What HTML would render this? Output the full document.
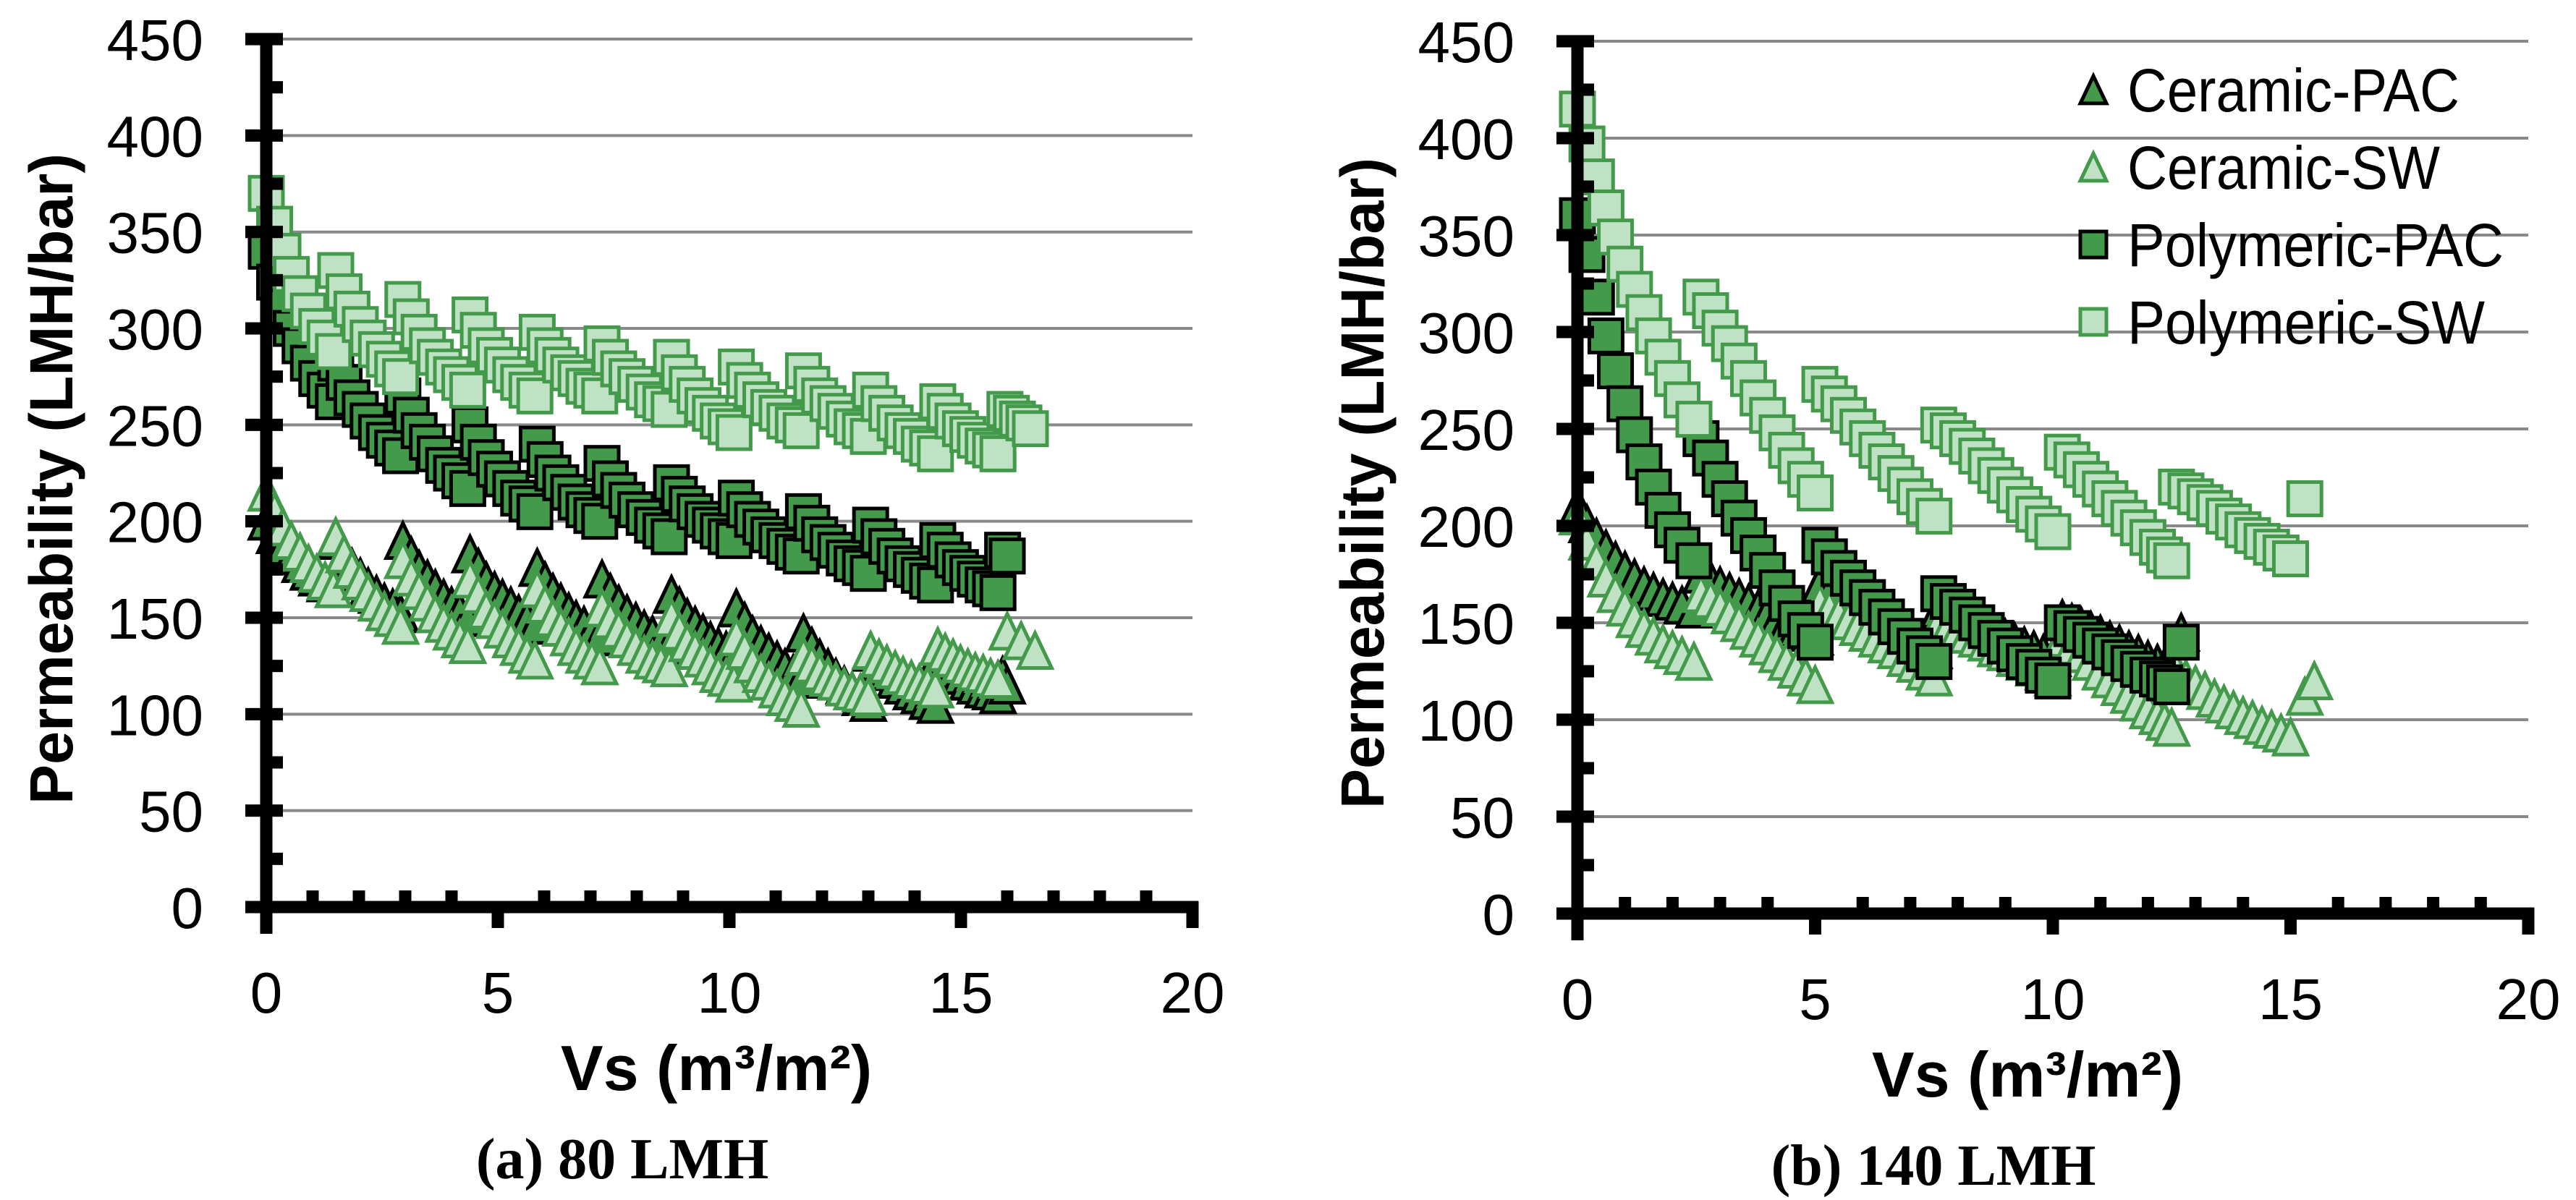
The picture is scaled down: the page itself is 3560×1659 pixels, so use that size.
<!DOCTYPE html>
<html><head><meta charset="utf-8"><style>
html,body{margin:0;padding:0;background:#fff;}
svg{display:block;font-family:"Liberation Sans",sans-serif;}
</style></head><body>
<svg id="fig" width="3560" height="1659" viewBox="0 0 3560 1659" xmlns="http://www.w3.org/2000/svg">
<g id="chartA"></g>
<g id="chartB"></g>
<g id="legend"></g>
</svg>
<script>
const xTicks = [0,5,10,15,20];
const yTicks = [0,50,100,150,200,250,300,350,400,450];
const seriesNames = ["Ceramic-PAC","Ceramic-SW","Polymeric-PAC","Polymeric-SW"];

// ---- chart (a) 80 LMH: shared x values of 11 filtration cycles ----
const xsA = [0,.18,.36,.54,.73,.91,1.09,1.27,1.45,
 1.5,1.68,1.85,2.03,2.2,2.38,2.55,2.73,2.9,
 2.95,3.13,3.3,3.48,3.65,3.83,4,4.18,4.35,
 4.4,4.58,4.75,4.93,5.1,5.28,5.45,5.63,5.8,
 5.85,6.02,6.19,6.36,6.53,6.69,6.86,7.03,7.2,
 7.25,7.43,7.61,7.79,7.98,8.16,8.34,8.52,8.7,
 8.75,8.92,9.09,9.26,9.43,9.59,9.76,9.93,10.1,
 10.15,10.33,10.5,10.68,10.85,11.03,11.2,11.38,11.55,
 11.6,11.78,11.95,12.13,12.3,12.48,12.65,12.83,13,
 13.05,13.23,13.4,13.58,13.75,13.93,14.1,14.28,14.45,
 14.5,14.66,14.83,14.99,15.15,15.31,15.48,15.64,15.8];
const aCPACx = xsA.concat([15.9,16]);
const aCPACy = [200,193,187,182,178,174,171,168,165, 190,182,176,171,166,162,158,155,152, 190,182,175,170,165,160,156,153,150, 183,176,169,164,160,156,152,149,146, 176,169,163,158,153,149,146,143,140, 170,163,157,152,148,144,141,138,135, 162,156,150,146,142,138,135,133,130, 155,148,141,136,132,128,124,121,118, 142,135,129,124,119,115,112,109,106, 132,127,122,118,115,112,110,107,105, 130,126,123,120,117,115,113,112,110, 120,115];
const aCSWx = xsA.concat([16,16.3,16.6]);
const aCSWy = [215,205,197,190,184,178,173,169,165, 192,183,175,169,163,158,153,150,146, 180,171,164,158,152,147,143,139,136, 170,162,154,149,144,139,135,131,128, 165,157,150,145,140,135,131,128,125, 155,149,144,139,135,131,128,126,124, 150,143,137,133,129,125,121,119,116, 140,133,126,121,117,113,109,106,103, 130,126,122,119,117,114,112,111,109, 133,129,126,123,120,118,116,115,113, 135,132,129,126,124,122,121,119,118, 143,138,133];
const aPPACx = xsA.concat([15.9,16]);
const aPPACy = [340,324,311,300,291,282,274,268,262, 282,272,264,258,252,246,242,238,234, 265,255,247,241,235,229,225,221,217, 250,241,233,227,222,217,212,209,205, 240,232,225,220,215,210,206,203,200, 230,222,216,211,206,202,198,195,192, 220,214,209,205,201,198,195,192,190, 212,206,201,197,193,190,187,184,182, 205,199,193,189,185,181,178,176,173, 198,192,187,182,178,175,172,169,167, 190,185,180,176,173,170,167,165,163, 185,182];
const aPSWx = xsA.concat([15.95,16.09,16.22,16.36,16.5]);
const aPSWy = [370,354,340,328,318,309,301,295,288, 330,319,310,302,295,289,284,279,275, 315,306,298,291,285,280,276,272,268, 307,299,291,286,281,276,272,268,265, 298,291,286,281,277,274,270,268,265, 292,285,279,275,271,267,263,261,258, 285,277,271,265,260,256,252,249,246, 280,273,268,263,259,256,252,250,247, 278,271,265,261,257,253,249,247,244, 268,261,256,251,247,244,240,238,235, 262,257,252,248,245,242,239,237,235, 258,256,253,251,248];

// ---- chart (b) 140 LMH ----
const xsB = [0,.2,.4,.6,.8,1,1.2,1.4,1.6,1.8,2,2.2,2.45,
 2.6,2.8,3,3.2,3.4,3.6,3.8,4,4.2,4.4,4.6,4.8,5,
 5.1,5.3,5.5,5.7,5.9,6.1,6.3,6.5,6.7,6.9,7.1,7.3,7.5,
 7.6,7.8,8,8.2,8.4,8.6,8.8,9,9.2,9.4,9.6,9.8,10,
 10.2,10.4,10.6,10.8,11,11.2,11.4,11.6,11.8,12,12.2,12.35,12.5];
const xsB6 = [12.6,12.8,13,13.2,13.4,13.6,13.8,14,14.2,14.4,14.6,14.8,15];
const bCPACx = xsB.concat([12.7]);
const bCPACy = [210,201,194,188,182,177,173,169,166,163,161,159,157, 175,172,169,166,163,160,157,155,152,150,147,145,143, 170,166,162,159,156,153,150,147,145,142,140,138,136, 157,155,152,150,148,146,144,142,140,138,136,134,132, 152,150,148,146,144,141,139,136,134,131,129,127,125, 145];
const bCSWx = xsB.concat(xsB6, [15.3,15.5]);
const bCSWy = [205,192,182,173,165,158,152,147,143,139,136,133,130, 165,162,158,154,150,146,142,138,134,130,126,122,118, 160,157,154,151,148,145,142,139,136,132,129,125,122, 150,148,146,144,142,140,137,135,132,130,127,125,122, 142,138,134,130,125,121,117,113,109,105,102,99,96, 125,121,118,115,111,108,105,102,100,97,95,93,91, 112,120];
const bPPACx = xsB.concat([12.7]);
const bPPACy = [360,340,318,298,280,263,247,233,220,208,198,190,182, 245,235,224,214,204,195,186,177,168,160,152,146,140, 190,184,178,173,168,163,158,153,148,143,138,134,130, 165,161,158,154,150,146,142,138,134,130,127,123,120, 150,147,144,141,138,135,132,129,126,123,121,119,117, 140];
const bPSWx = xsB.concat(xsB6, [15.3]);
const bPSWy = [415,397,380,364,349,335,322,310,298,287,276,265,255, 318,311,302,294,285,276,266,257,248,239,231,224,217, 273,268,263,257,251,245,239,233,227,221,215,210,205, 252,249,245,241,236,231,226,221,216,211,206,201,197, 238,234,229,224,219,214,209,204,199,194,189,185,182, 220,218,215,212,209,205,202,198,195,192,189,186,183, 214];

const NS = "http://www.w3.org/2000/svg";
const DARK = "#449a4b", LIGHT = "#c0e2c4";
const styles = {
  "Ceramic-PAC":{shape:"tri", fill:DARK, stroke:"#000"},
  "Ceramic-SW":{shape:"tri", fill:LIGHT, stroke:DARK},
  "Polymeric-PAC":{shape:"sq", fill:DARK, stroke:"#000"},
  "Polymeric-SW":{shape:"sq", fill:LIGHT, stroke:DARK}
};
function mk(tag, attrs, parent){
  const e = document.createElementNS(NS, tag);
  for (const k in attrs) e.setAttribute(k, attrs[k]);
  parent.appendChild(e);
  return e;
}
function marker(parent, name, cx, cy, s){
  const st = styles[name];
  let e;
  if (st.shape === "sq") {
    e = mk("rect", {x:cx-s/2, y:cy-s/2, width:s, height:s, fill:st.fill, stroke:st.stroke, "stroke-width":5}, parent);
  } else {
    const h = s*1.05;
    e = mk("polygon", {points:`${cx},${cy-h/2} ${cx+s/2},${cy+h/2} ${cx-s/2},${cy+h/2}`, fill:st.fill, stroke:st.stroke, "stroke-width":5}, parent);
  }
  
  
  return e;
}

function drawChart(g, ax, sub, series){
  const X = v => ax.x0 + v*ax.px;
  const Y = v => ax.y0 - v*ax.py;
  yTicks.forEach(t=>{
    if (t===0) return;
    const l = mk("line",{x1:X(0),x2:X(20),y1:Y(t),y2:Y(t),stroke:"#898989","stroke-width":4},g);
    
    
  });
  yTicks.forEach(t=>{
    const tx = mk("text",{x:X(0)-87,y:Y(t)+29,"font-size":80,"text-anchor":"end",fill:"#000"},g);
    tx.textContent = t;
    
    
  });
  xTicks.forEach(t=>{
    const tx = mk("text",{x:X(t),y:Y(0)+146,"font-size":80,"text-anchor":"middle",fill:"#000"},g);
    tx.textContent = t;
    
    
  });
  series.forEach(s=>{
    const sg = mk("g",{},g);
    
    
    s.x.forEach((xv,i)=>marker(sg, s.name, X(xv), Y(s.y[i]), 46));
  });
  const axg = mk("g",{fill:"#000"},g);
  
  
  mk("rect",{x:X(0)-8.5,y:Y(450)-8,width:17,height:Y(0)-Y(450)+45},axg);
  mk("rect",{x:X(0)-29,y:Y(0)-8.5,width:X(20)-X(0)+37,height:17},axg);
  for (let v=0; v<=450; v+=25){
    if (v%50===0) mk("rect",{x:X(0)-29,y:Y(v)-8.5,width:52,height:17},axg);
    else mk("rect",{x:X(0),y:Y(v)-8.5,width:23,height:17},axg);
  }
  for (let v=1; v<=20; v++){
    if (v%5===0) mk("rect",{x:X(v)-8.5,y:Y(0)-8,width:17,height:37},axg);
    else mk("rect",{x:X(v)-8.5,y:Y(0)-23,width:17,height:23},axg);
  }
  const yt = mk("text",{x:0,y:0,"font-size":84,"font-weight":"bold","text-anchor":"middle",textLength:900,lengthAdjust:"spacingAndGlyphs",transform:`translate(${X(0)-268},${(Y(0)+Y(450))/2+8}) rotate(-90)`},g);
  yt.textContent = "Permeability (LMH/bar)";
  
  
  const xt = mk("text",{x:X(0)+622,y:Y(0)+253,"font-size":88,"font-weight":"bold","text-anchor":"middle"},g);
  xt.textContent = "Vs (m³/m²)";
  
  
  const st = mk("text",{x:X(0)+492,y:Y(0)+375,"font-size":80,"font-weight":"bold","text-anchor":"middle","font-family":"Liberation Serif, serif"},g);
  st.textContent = sub;
  
  
}

drawChart(document.getElementById("chartA"), {x0:368,y0:1254,px:64,py:133.33/50}, "(a) 80 LMH", [
  {name:"Ceramic-PAC", x:aCPACx, y:aCPACy},
  {name:"Ceramic-SW", x:aCSWx, y:aCSWy},
  {name:"Polymeric-PAC", x:aPPACx, y:aPPACy},
  {name:"Polymeric-SW", x:aPSWx, y:aPSWy}
]);
drawChart(document.getElementById("chartB"), {x0:2180,y0:1263,px:65.7,py:134/50}, "(b) 140 LMH", [
  {name:"Ceramic-PAC", x:bCPACx, y:bCPACy},
  {name:"Ceramic-SW", x:bCSWx, y:bCSWy},
  {name:"Polymeric-PAC", x:bPPACx, y:bPPACy},
  {name:"Polymeric-SW", x:bPSWx, y:bPSWy}
]);

const lg = document.getElementById("legend");
const legendW = [459,432,520,494];
const legendY = [124,231,338,445];
seriesNames.forEach((n,i)=>{
  const eg = mk("g",{},lg);
  
  
  const m = marker(eg, n, 2893, legendY[i], 36);
  
  const t = mk("text",{x:2940,y:legendY[i]+30,"font-size":84,textLength:legendW[i],lengthAdjust:"spacingAndGlyphs"},eg);
  t.textContent = n;
  
  
});
</script>
</body></html>
